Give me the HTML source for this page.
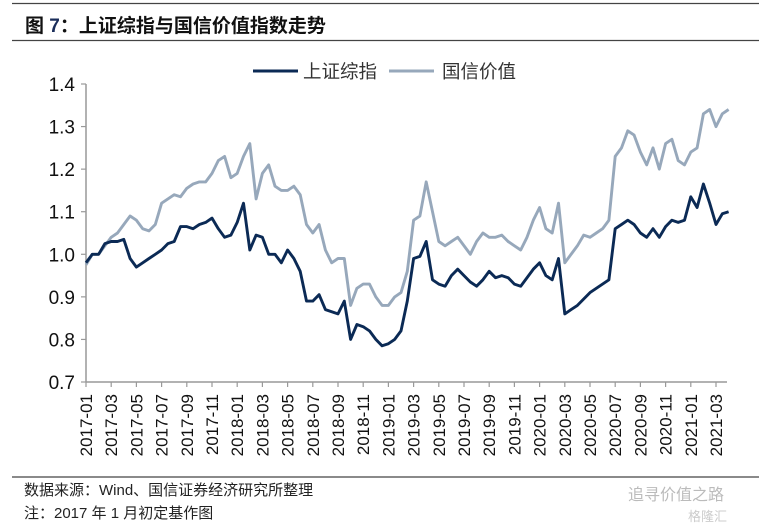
<!DOCTYPE html>
<html><head><meta charset="utf-8"><style>
body{margin:0;width:759px;height:525px;background:#fff;overflow:hidden;font-family:"Liberation Sans","Noto Sans CJK SC",sans-serif;}
</style></head><body>
<svg id="chart" width="759" height="525" xmlns="http://www.w3.org/2000/svg">
<line x1="12" y1="3.5" x2="759" y2="3.5" stroke="#444" stroke-width="1.2"/>
<text x="25" y="32" font-size="19" font-weight="bold" fill="#111" font-family="Liberation Sans,Noto Sans CJK SC,sans-serif">图 <tspan fill="#1a2d5a">7</tspan>：上证综指与国信价值指数走势</text>
<line x1="12" y1="40.5" x2="759" y2="40.5" stroke="#444" stroke-width="1.2"/>
<g id="axes"></g>
<g id="series"></g>
<g>
<line x1="253" y1="71" x2="298" y2="71" stroke="#0b2a55" stroke-width="3"/>
<text x="303" y="78" font-size="18.5" fill="#333">上证综指</text>
<line x1="389" y1="71" x2="434" y2="71" stroke="#97a8bb" stroke-width="3"/>
<text x="442" y="78" font-size="18.5" fill="#333">国信价值</text>
</g>
<line x1="12" y1="477" x2="759" y2="477" stroke="#444" stroke-width="1.2"/>
<text x="24" y="495" font-size="15" fill="#222">数据来源：Wind、国信证券经济研究所整理</text>
<text x="24" y="518" font-size="15" fill="#222">注：2017 年 1 月初定基作图</text>
<text x="628" y="500" font-size="16" fill="#bbb">追寻价值之路</text>
<text x="688" y="521" font-size="13" fill="#ccc">格隆汇</text>
</svg>
<script>
const yTicks=[0.7,0.8,0.9,1.0,1.1,1.2,1.3,1.4];
const monthLabels=["2017-01","2017-03","2017-05","2017-07","2017-09","2017-11","2018-01","2018-03","2018-05","2018-07","2018-09","2018-11","2019-01","2019-03","2019-05","2019-07","2019-09","2019-11","2020-01","2020-03","2020-05","2020-07","2020-09","2020-11","2021-01","2021-03"];
const sse=[0.98,1.0,1.0,1.025,1.03,1.03,1.035,0.99,0.97,0.98,0.99,1.0,1.01,1.025,1.03,1.065,1.065,1.06,1.07,1.075,1.085,1.06,1.04,1.045,1.075,1.12,1.01,1.045,1.04,1.0,1.0,0.98,1.01,0.99,0.96,0.89,0.89,0.905,0.87,0.865,0.86,0.89,0.8,0.835,0.83,0.82,0.8,0.785,0.79,0.8,0.82,0.89,0.99,0.995,1.03,0.94,0.93,0.925,0.95,0.965,0.95,0.935,0.925,0.94,0.96,0.945,0.95,0.945,0.93,0.925,0.945,0.965,0.98,0.95,0.94,0.99,0.86,0.87,0.88,0.895,0.91,0.92,0.93,0.94,1.06,1.07,1.08,1.07,1.05,1.04,1.06,1.04,1.065,1.08,1.075,1.08,1.135,1.11,1.165,1.12,1.07,1.095,1.1];
const guoxin=[0.975,1.0,1.0,1.02,1.04,1.05,1.07,1.09,1.08,1.06,1.055,1.07,1.12,1.13,1.14,1.135,1.155,1.165,1.17,1.17,1.19,1.22,1.23,1.18,1.19,1.23,1.26,1.13,1.19,1.21,1.16,1.15,1.15,1.16,1.14,1.07,1.05,1.07,1.01,0.98,0.99,0.99,0.88,0.92,0.93,0.93,0.9,0.88,0.88,0.9,0.91,0.96,1.08,1.09,1.17,1.1,1.03,1.02,1.03,1.04,1.02,1.0,1.03,1.05,1.04,1.04,1.045,1.03,1.02,1.01,1.04,1.08,1.11,1.06,1.05,1.12,0.98,1.0,1.02,1.045,1.04,1.05,1.06,1.08,1.23,1.25,1.29,1.28,1.24,1.21,1.25,1.2,1.26,1.27,1.22,1.21,1.24,1.25,1.33,1.34,1.3,1.33,1.34];
const NS='http://www.w3.org/2000/svg';
const X0=86,MW=12.6,Y0=382,YTOP=84,VMIN=0.7,VMAX=1.4,XEND=727;
function xm(m){return X0+m*MW;}
function yv(v){return Y0-(v-VMIN)/(VMAX-VMIN)*(Y0-YTOP);}
function mk(tag,attrs,parent){const e=document.createElementNS(NS,tag);for(const k in attrs)e.setAttribute(k,attrs[k]);parent.appendChild(e);return e;}
const axes=document.getElementById('axes');
const ya=mk('line',{x1:X0,y1:YTOP,x2:X0,y2:Y0,stroke:'#999','stroke-width':1.5},axes);


const xa=mk('line',{x1:X0,y1:Y0,x2:XEND,y2:Y0,stroke:'#999','stroke-width':1.5},axes);


yTicks.forEach(v=>{
  const t=mk('line',{x1:X0-5,y1:yv(v),x2:X0,y2:yv(v),stroke:'#999','stroke-width':1.2},axes);
  
  
  const l=mk('text',{x:75,y:yv(v)+7,'font-size':19,'text-anchor':'end',fill:'#111'},axes);
  l.textContent=v.toFixed(1);
  
  
});
monthLabels.forEach((s,i)=>{
  const x=xm(i*2);
  const t=mk('line',{x1:x,y1:Y0,x2:x,y2:Y0+5,stroke:'#999','stroke-width':1.2},axes);
  
  
  const l=mk('text',{x:0,y:0,'font-size':17,'text-anchor':'end',fill:'#111',transform:`translate(${x+6},394) rotate(-90)`},axes);
  l.textContent=s;
  
  
});
const ser=document.getElementById('series');
function draw(arr,color,name){
  const d=arr.map((v,i)=>(i?'L':'M')+xm(i*0.5).toFixed(1)+','+yv(v).toFixed(1)).join('');
  const p=mk('path',{d:d,fill:'none',stroke:color,'stroke-width':2.9,'stroke-linejoin':'round'},ser);
  
  
}
draw(guoxin,'#97a8bb','guoxin-value-line');
draw(sse,'#0b2a55','sse-composite-line');
</script>
</body></html>
